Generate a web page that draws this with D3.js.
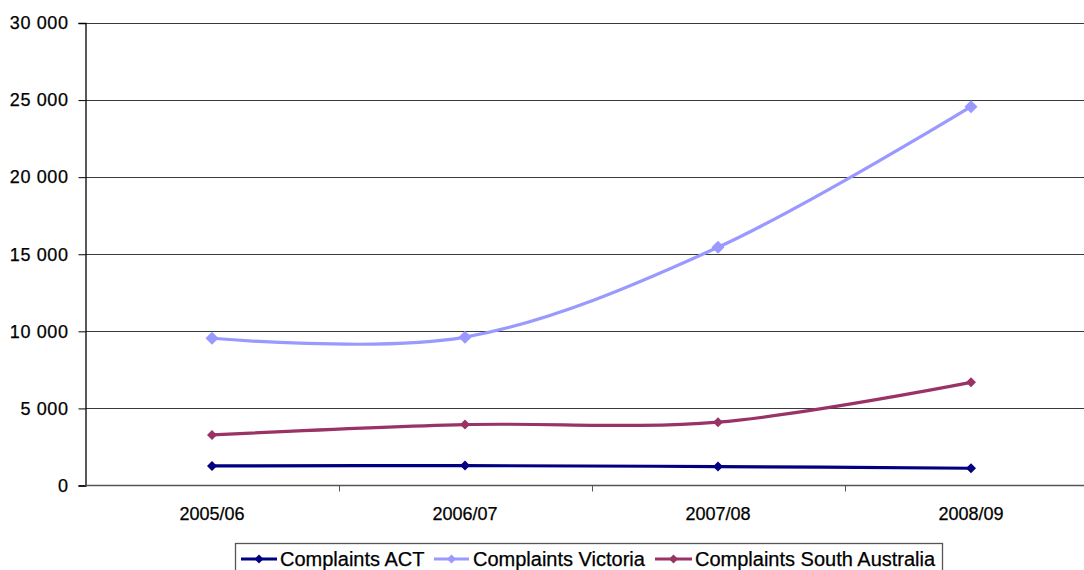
<!DOCTYPE html>
<html>
<head>
<meta charset="utf-8">
<script src="https://cdn.jsdelivr.net/npm/d3@7"></script>
<style>
  html, body { margin: 0; padding: 0; background: #fff; }
  svg { display: block; }
  text { font-family: Arial, "Liberation Sans", sans-serif; fill: #000; stroke: #000; stroke-width: 0.25px; }
</style>
</head>
<body>
<svg id="chart" width="1084" height="570"></svg>
<script>
// Complaints received per financial year
const years = ["2005/06", "2006/07", "2007/08", "2008/09"];
const complaintsACT = [1270, 1290, 1230, 1120];
const complaintsVictoria = [9550, 9620, 15450, 24570];
const complaintsSA = [3280, 3950, 4110, 6690];
const yTicks = [0, 5000, 10000, 15000, 20000, 25000, 30000];

const series = [
  { name: "Complaints ACT", values: complaintsACT, color: "#000080", marker: 5 },
  { name: "Complaints Victoria", values: complaintsVictoria, color: "#9999FF", marker: 6.5 },
  { name: "Complaints South Australia", values: complaintsSA, color: "#993366", marker: 5 }
];

const svg = d3.select("#chart");
const plot = { left: 85.5, right: 1097.5, top: 23, bottom: 485.5 };

const x = d3.scaleBand().domain(years).range([plot.left, plot.right]);
const y = d3.scaleLinear().domain([0, 30000]).range([plot.bottom, plot.top]);
const fmt = v => d3.format(",")(v).replace(/,/g, " ");

// horizontal gridlines
svg.append("g").selectAll("line").data(yTicks.filter(d => d > 0)).join("line")
  .attr("x1", plot.left).attr("x2", plot.right)
  .attr("y1", d => Math.round(y(d)) + 0.5).attr("y2", d => Math.round(y(d)) + 0.5)
  .attr("stroke", "#3a3a3a").attr("stroke-width", 1.2);

// y axis
const yAxis = svg.append("g").attr("transform", `translate(${plot.left},0)`)
  .call(d3.axisLeft(y).tickValues(yTicks).tickFormat(fmt).tickSize(7).tickPadding(10));
yAxis.select(".domain").attr("stroke", "#000").attr("stroke-width", 1.3);
yAxis.selectAll(".tick line").attr("stroke", "#000");
yAxis.selectAll(".tick text").attr("font-size", "18px").attr("fill", "#000")
  .attr("letter-spacing", "0.6px")
  .attr("font-family", "Arial, 'Liberation Sans', sans-serif");

// x axis with ticks at category boundaries
const xAxisG = svg.append("g").attr("transform", `translate(0,${plot.bottom})`);
xAxisG.append("line").attr("x1", plot.left).attr("x2", plot.right)
  .attr("y1", 0).attr("y2", 0).attr("stroke", "#555").attr("stroke-width", 1.3);
const boundaries = years.slice(1).map(d => x(d));
xAxisG.selectAll("line.tk").data(boundaries).join("line").attr("class", "tk")
  .attr("x1", d => Math.round(d) + 0.5).attr("x2", d => Math.round(d) + 0.5)
  .attr("y1", 0).attr("y2", 6).attr("stroke", "#555");
xAxisG.selectAll("text").data(years).join("text")
  .attr("x", d => x(d) + x.bandwidth() / 2)
  .attr("y", 34)
  .attr("text-anchor", "middle")
  .attr("font-size", "18px")
  .text(d => d);

// smoothed series lines
const line = d3.line()
  .x((d, i) => x(years[i]) + x.bandwidth() / 2)
  .y(d => y(d))
  .curve(d3.curveCatmullRom.alpha(0));

const diamond = s => `M0,${-s}L${s},0L0,${s}L${-s},0Z`;

series.forEach(s => {
  svg.append("path").datum(s.values)
    .attr("d", line)
    .attr("fill", "none")
    .attr("stroke", s.color)
    .attr("stroke-width", 3.2);
  svg.append("g").selectAll("path").data(s.values).join("path")
    .attr("transform", (d, i) => `translate(${x(years[i]) + x.bandwidth() / 2},${y(d)})`)
    .attr("d", diamond(s.marker))
    .attr("fill", s.color);
});

// legend
const legend = svg.append("g");
legend.append("rect")
  .attr("x", 235.5).attr("y", 543.5).attr("width", 707).attr("height", 40)
  .attr("fill", "#fff").attr("stroke", "#555").attr("stroke-width", 1.3);
const legendItems = [
  { s: series[0], x0: 241, x1: 277, tx: 280 },
  { s: series[1], x0: 434, x1: 469, tx: 473 },
  { s: series[2], x0: 655, x1: 692, tx: 695 }
];
legendItems.forEach(it => {
  const ly = 559;
  legend.append("line").attr("x1", it.x0).attr("x2", it.x1)
    .attr("y1", ly).attr("y2", ly)
    .attr("stroke", it.s.color).attr("stroke-width", 3.2);
  legend.append("path")
    .attr("transform", `translate(${(it.x0 + it.x1) / 2},${ly})`)
    .attr("d", diamond(4.5)).attr("fill", it.s.color);
  legend.append("text").attr("x", it.tx).attr("y", 565.5)
    .attr("font-size", "20px").text(it.s.name);
});
</script>
</body>
</html>
